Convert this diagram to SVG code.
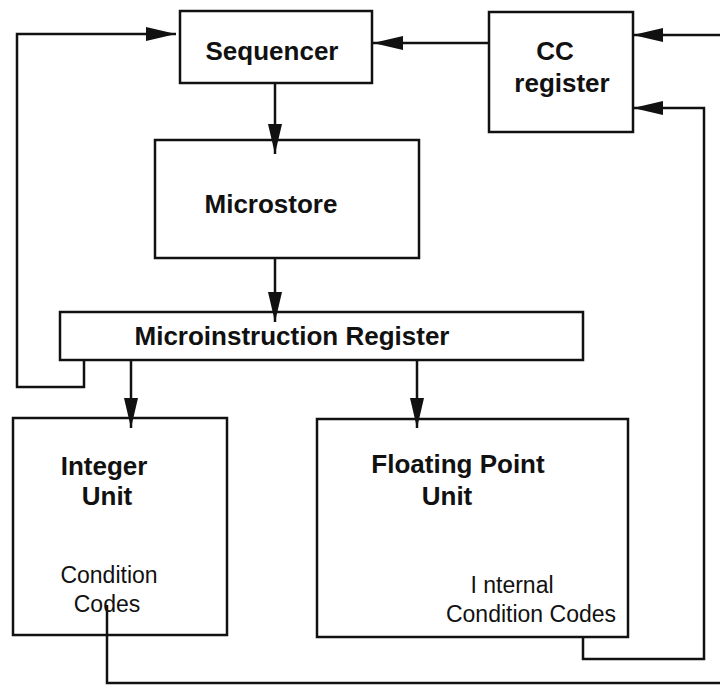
<svg xmlns="http://www.w3.org/2000/svg" width="720" height="686" viewBox="0 0 720 686">
<style>
.box{fill:#fff;stroke:#111;stroke-width:2.5}
.b{font-family:"Liberation Sans",Arial,sans-serif;font-weight:bold;font-size:26px;fill:#111;text-anchor:middle}
.r{font-family:"Liberation Sans",Arial,sans-serif;font-size:23px;fill:#111;text-anchor:middle}
.c{fill:none;stroke:#111;stroke-width:2.5}
</style>
<defs>
<marker id="ah" viewBox="0 0 30 14" refX="30" refY="7" markerWidth="30" markerHeight="14" markerUnits="userSpaceOnUse" orient="auto">
<path d="M0,0 L30,7 L0,14 z" fill="#111"/>
</marker>
</defs>
<rect width="720" height="686" fill="#fff"/>
<g id="sequencer"><rect class="box" x="180" y="11" width="192" height="72"/><text class="b" x="272" y="60">Sequencer</text></g>
<g id="cc-register"><rect class="box" x="489" y="12" width="144" height="120"/><text class="b" x="555" y="60">CC</text><text class="b" x="562" y="92">register</text></g>
<g id="microstore"><rect class="box" x="155" y="140" width="264" height="118"/><text class="b" x="271" y="213">Microstore</text></g>
<g id="mir"><rect class="box" x="60" y="312" width="523" height="48"/><text class="b" x="292" y="345">Microinstruction Register</text></g>
<g id="integer-unit"><rect class="box" x="13" y="418" width="214" height="217"/><text class="b" x="104" y="475">Integer</text><text class="b" x="107" y="505">Unit</text><text class="r" x="109" y="583">Condition</text><text class="r" x="107" y="612">Codes</text></g>
<g id="fp-unit"><rect class="box" x="317" y="419" width="311" height="218"/><text class="b" x="458" y="473">Floating Point</text><text class="b" x="447" y="505">Unit</text><text class="r" x="512" y="593">I nternal</text><text class="r" x="531" y="622">Condition Codes</text></g>
<g id="connectors">
<path class="c" d="M84,360 V387 H17 V34 H176" marker-end="url(#ah)"/>
<path class="c" d="M275,83 V154" marker-end="url(#ah)"/>
<path class="c" d="M275,258 V322" marker-end="url(#ah)"/>
<path class="c" d="M131,360 V428" marker-end="url(#ah)"/>
<path class="c" d="M417,360 V428" marker-end="url(#ah)"/>
<path class="c" d="M489,43 H373" marker-end="url(#ah)"/>
<path class="c" d="M107,605 V683 H724 V35 H633" marker-end="url(#ah)"/>
<path class="c" d="M583,637 V659 H704 V108 H633" marker-end="url(#ah)"/>
</g>
</svg>
